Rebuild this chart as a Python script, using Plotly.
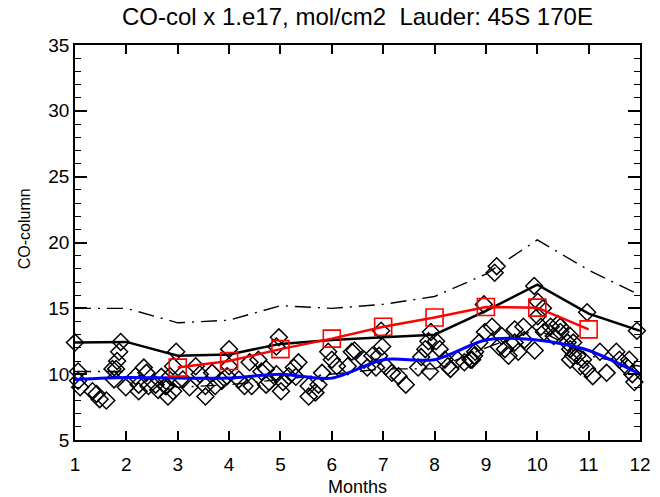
import plotly.graph_objects as go

# Monthly climatology lines (month 1..12)
months = list(range(1, 13))
mean_col = [12.4, 12.45, 11.4, 11.5, 12.3, 12.6, 12.8, 13.0, 14.8, 16.8, 14.6, 13.3]
upper_col = [15.0, 15.0, 13.9, 14.1, 15.2, 15.0, 15.3, 15.9, 17.6, 20.2, 17.9, 16.0]
lower_col = [10.2, 10.2, 9.0, 9.2, 9.6, 10.0, 10.4, 10.4, 12.0, 13.4, 11.4, 10.6]
model_col = [9.6, 9.75, 9.7, 9.7, 10.0, 9.7, 11.1, 11.1, 12.6, 12.6, 11.8, 10.0]

# Monthly mean of the second data set (months 3..11)
sq_months = [3, 4, 5, 6, 7, 8, 9, 10, 11]
sq_col = [10.5, 11.0, 11.9, 12.7, 13.6, 14.3, 15.1, 15.05, 13.4]

# Individual observations (fractional month, column)
obs_month = [
    1.00, 1.89, 1.86, 1.82, 1.80, 1.06, 1.06, 1.10, 1.34, 1.42, 1.48, 1.61,
    1.73, 1.76, 1.99, 2.18, 2.24, 2.34, 2.39, 2.24, 2.43, 2.57, 2.62, 2.68, 2.76,
    2.97, 2.91, 2.85, 2.78, 2.81, 2.91, 3.10, 3.23, 3.35, 3.43, 3.54, 3.54,
    3.67, 3.73, 3.86, 4.00, 4.00, 3.96, 4.19, 4.30, 4.40, 4.44, 4.57, 4.63, 4.72,
    4.97, 4.92, 4.72, 4.78, 4.92, 5.01, 5.05, 5.16, 5.26, 5.35, 5.30, 5.55, 5.55,
    5.68, 5.74, 5.81, 5.93, 6.00, 6.10, 6.31, 6.39, 6.44, 6.63, 6.69, 6.79,
    6.96, 6.98, 6.92, 7.05, 7.17, 7.30, 7.44, 6.86, 7.93, 7.88, 7.82, 7.74, 7.68,
    7.91, 8.03, 8.10, 8.20, 8.26, 8.31, 8.45, 8.58, 8.70, 8.77,
    9.21, 9.17, 9.94, 8.96, 9.12, 8.98, 8.87, 8.79, 8.73, 9.31, 9.25, 9.37, 9.44,
    9.56, 9.56, 9.63, 9.73, 9.75, 9.95, 10.01, 10.07, 10.13, 10.26, 10.32, 10.45,
    10.59, 10.64, 10.70, 10.01, 10.11,
    10.97, 11.94, 10.40, 10.45, 10.64, 10.70, 10.64, 10.78, 10.89, 10.84, 10.97,
    11.08, 11.35, 11.22, 11.54, 11.60, 11.73, 11.85, 11.89, 11.79,
]
obs_col = [
    12.4, 12.45, 11.7, 11.0, 10.4, 10.2, 9.5, 9.0, 8.7, 8.5, 8.1, 8.0,
    10.4, 9.6, 9.0, 9.85, 9.2, 10.5, 10.1, 8.7, 9.1, 9.2, 8.8, 9.8, 9.1,
    11.7, 10.6, 9.85, 9.1, 8.3, 8.7, 9.6, 9.0, 10.6, 10.0, 9.1, 8.3,
    10.1, 9.1, 9.5, 11.9, 10.6, 9.85, 9.6, 9.1, 10.9, 9.1, 11.1, 10.2, 9.2,
    12.8, 12.1, 10.4, 9.4, 10.0, 8.7, 9.4, 9.85, 10.5, 10.9, 9.8, 9.1, 8.3,
    8.6, 9.2, 10.1, 11.7, 11.1, 10.6, 10.6, 11.7, 11.8, 11.1, 10.5, 11.4,
    13.3, 12.1, 11.4, 10.6, 10.1, 9.85, 9.2, 10.5, 13.2, 12.5, 11.9, 11.3, 10.5,
    10.2, 12.5, 11.9, 11.1, 10.6, 10.4, 11.1, 10.9, 11.1, 11.4,
    18.2, 17.7, 16.7, 15.3, 13.6, 13.2, 12.4, 11.7, 11.1, 12.9, 12.1, 11.9, 11.4,
    13.4, 12.4, 11.7, 13.6, 12.6, 11.8, 14.4, 13.6, 13.2, 13.6, 12.9, 13.6,
    12.4, 11.9, 11.4, 15.5, 15.0,
    14.7, 13.3, 13.8, 13.2, 12.9, 12.4, 11.1, 11.4, 11.1, 10.6, 10.4,
    9.85, 10.1, 11.7, 11.7, 11.1, 10.6, 10.0, 9.4, 11.1,
]

x_ticks = list(range(1, 13))
y_ticks = [5, 10, 15, 20, 25, 30, 35]

FONT = "Liberation Sans, Arial, sans-serif"

fig = go.Figure()

fig.add_trace(go.Scatter(
    x=obs_month, y=obs_col, mode="markers",
    marker=dict(symbol="diamond-open", size=13, color="black",
                line=dict(color="black", width=1.5)),
    showlegend=False, cliponaxis=False,
))

for band in (upper_col, lower_col):
    fig.add_trace(go.Scatter(
        x=months, y=band, mode="lines",
        line=dict(color="black", width=1.4, dash="16px,7px,2px,7px"),
        showlegend=False,
    ))

fig.add_trace(go.Scatter(
    x=months, y=mean_col, mode="lines",
    line=dict(color="black", width=2.5),
    showlegend=False,
))

fig.add_trace(go.Scatter(
    x=months, y=model_col, mode="lines",
    line=dict(color="#0000ff", width=3, shape="spline", smoothing=0.8),
    showlegend=False,
))

fig.add_trace(go.Scatter(
    x=sq_months, y=sq_col, mode="lines+markers",
    line=dict(color="#ff0000", width=2.5),
    marker=dict(symbol="square-open", size=17, color="#ff0000",
                line=dict(color="#ff0000", width=1.6)),
    showlegend=False,
))

axis_common = dict(
    showline=True, linecolor="black", linewidth=1.5, mirror="allticks",
    ticks="inside", tickcolor="black", tickwidth=1.5,
    showgrid=False, zeroline=False,
    tickfont=dict(family=FONT, size=19, color="black"),
)

fig.update_xaxes(
    range=[1, 12], tickvals=x_ticks, ticklen=9, ticklabelstandoff=6, **axis_common,
)
fig.update_yaxes(
    range=[5, 35], tickvals=y_ticks, ticklen=12,
    minor=dict(ticks="inside", dtick=1, ticklen=6, tickcolor="black", tickwidth=1.2),
    **axis_common,
)

fig.update_layout(
    width=660, height=497,
    margin=dict(l=75, r=9, t=45, b=57),
    paper_bgcolor="white", plot_bgcolor="white",
    font=dict(family=FONT, color="black"),
    annotations=[
        dict(text="CO-col x 1.e17, mol/cm2  Lauder: 45S 170E",
             xref="paper", yref="paper", x=0.5, y=1.071,
             xanchor="center", yanchor="middle", showarrow=False,
             font=dict(family=FONT, size=24, color="black")),
        dict(text="Months", xref="paper", yref="paper", x=0.5, y=-0.119,
             xanchor="center", yanchor="middle", showarrow=False,
             font=dict(family=FONT, size=18, color="black")),
        dict(text="CO-column", xref="paper", yref="paper", x=-0.09, y=0.534,
             xanchor="center", yanchor="middle", showarrow=False, textangle=-90,
             font=dict(family=FONT, size=16, color="black")),
    ],
)

fig.write_html("out.html")
